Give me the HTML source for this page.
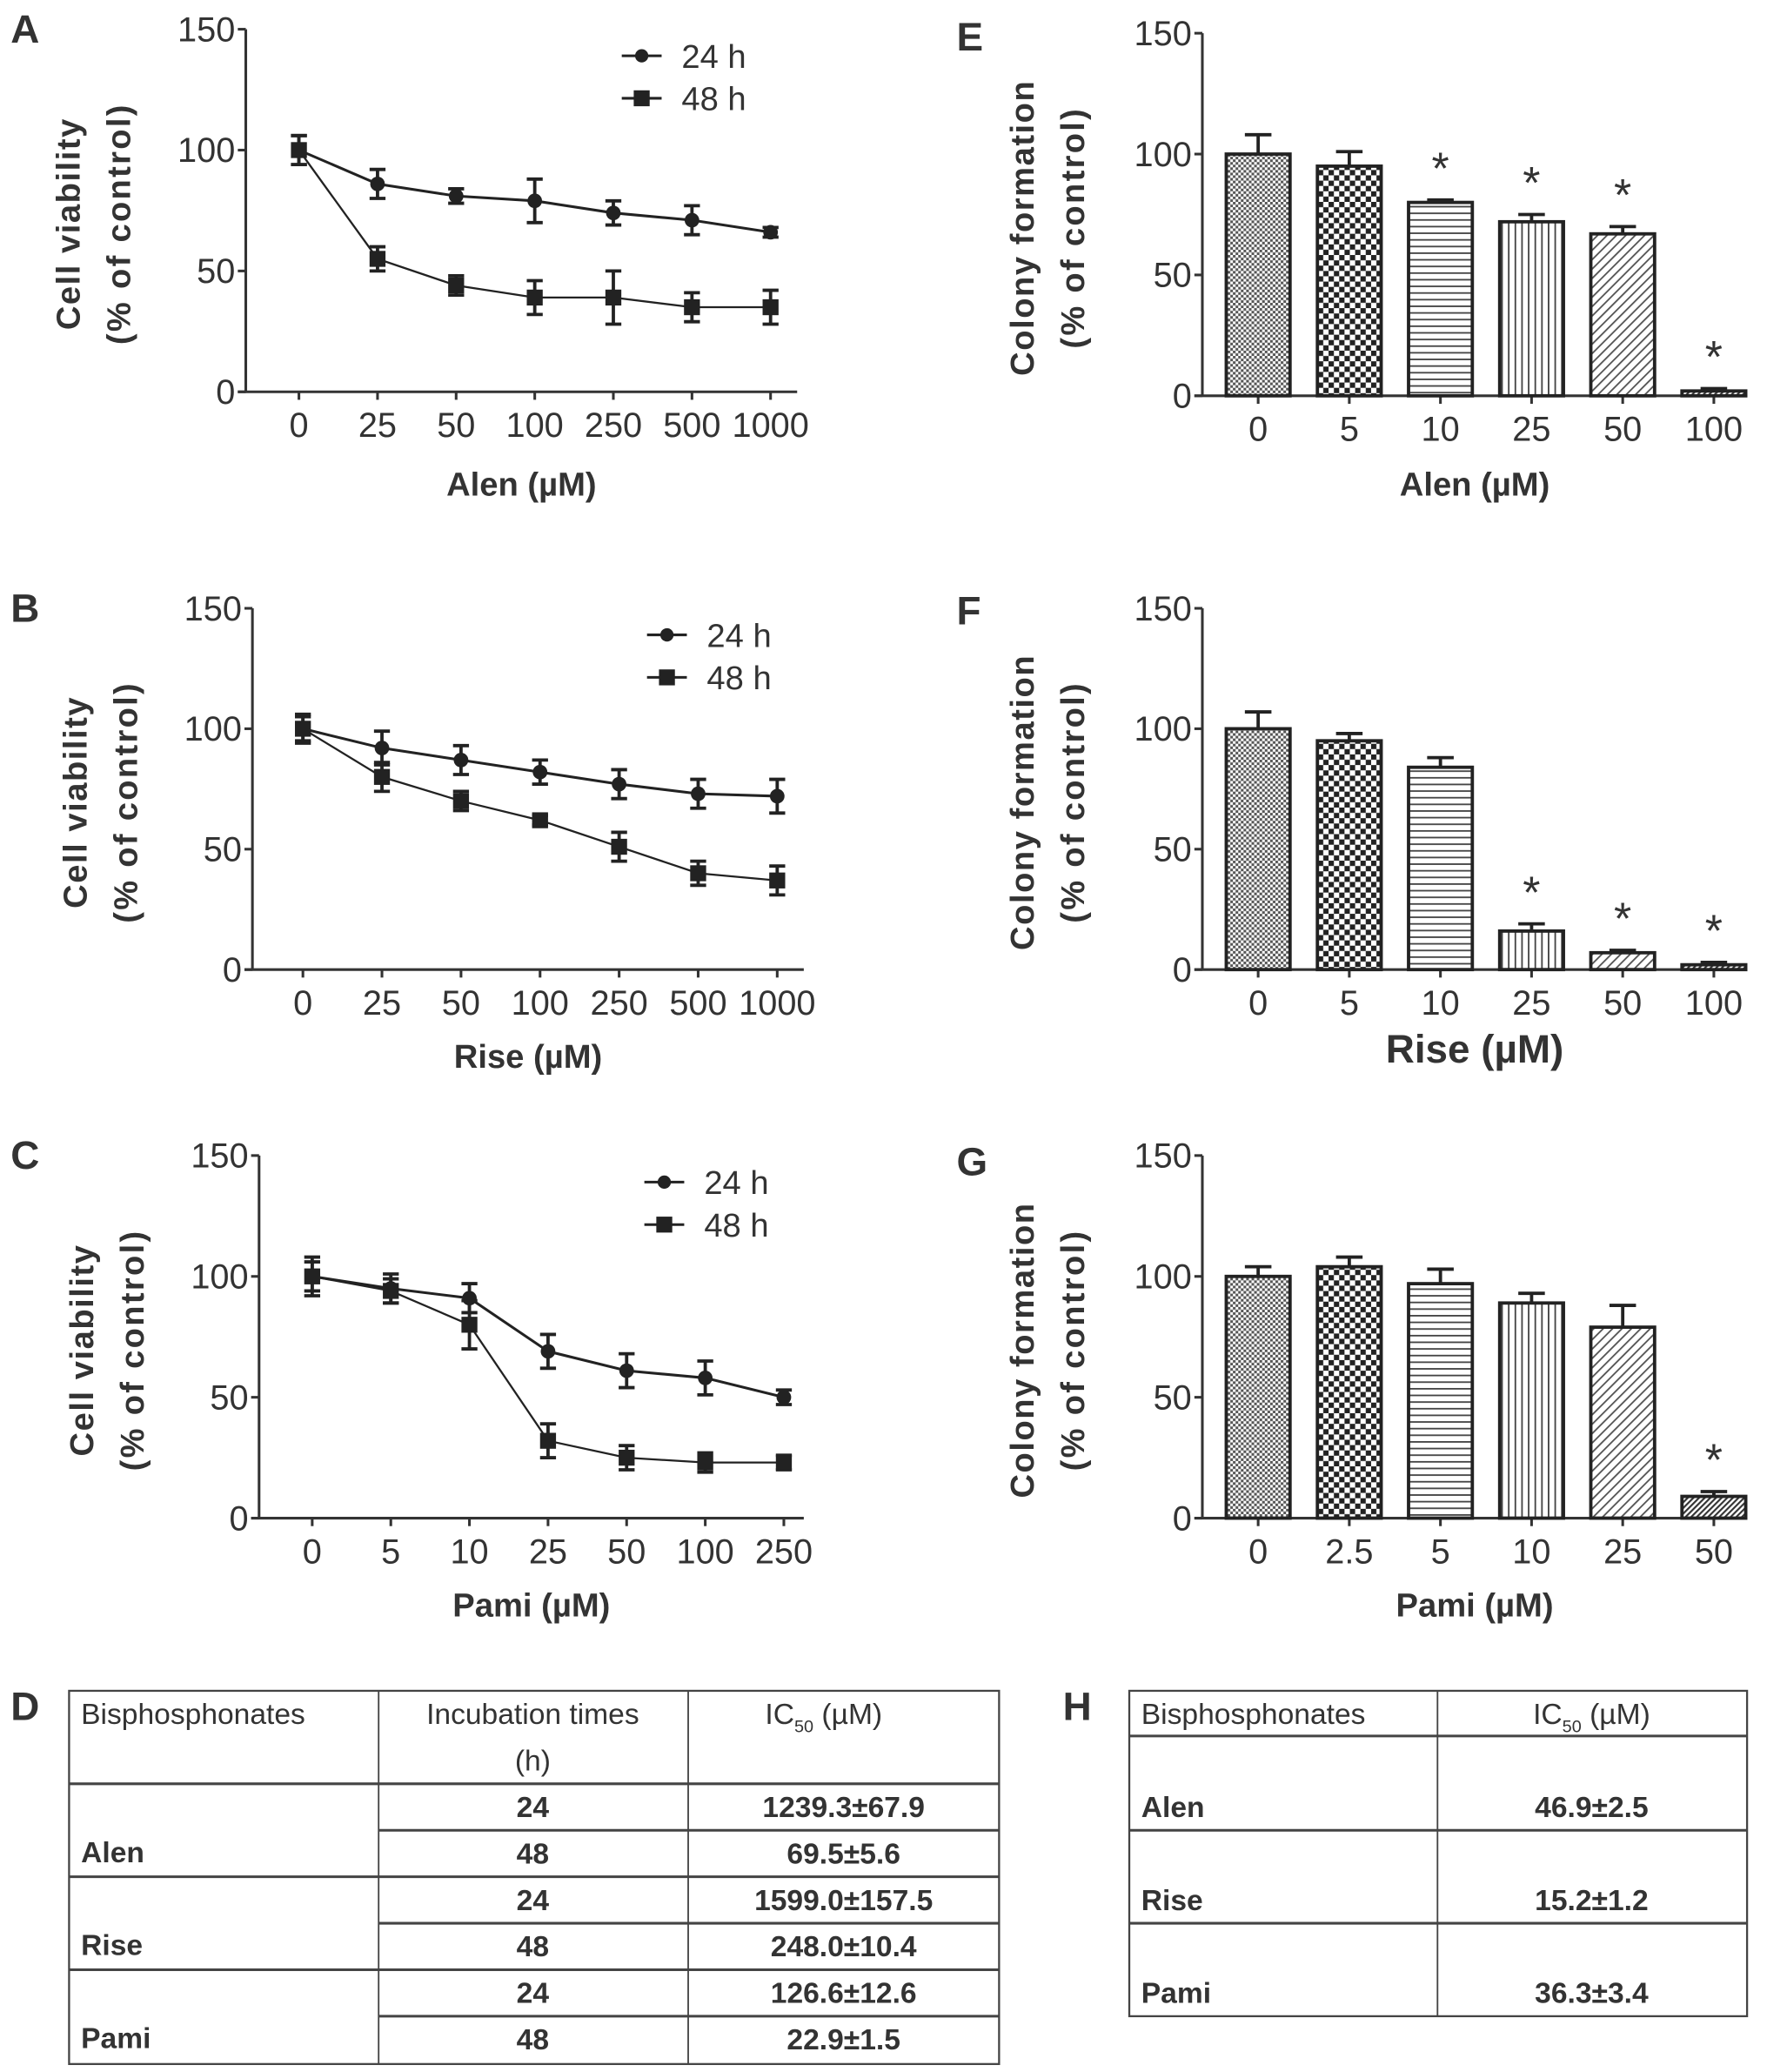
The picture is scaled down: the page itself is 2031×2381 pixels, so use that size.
<!DOCTYPE html>
<html><head><meta charset="utf-8"><style>
html,body{margin:0;padding:0;background:#fff}
svg{display:block}
text{font-family:"Liberation Sans Narrow","Liberation Sans",sans-serif;fill:#333}
.lab{font-family:"Liberation Sans",sans-serif;fill:#333}
</style></head><body>
<svg id="fig" width="2031" height="2381" viewBox="0 0 1330 1560" preserveAspectRatio="none" xmlns="http://www.w3.org/2000/svg">
<defs>
<pattern id="p0" width="4" height="4" patternUnits="userSpaceOnUse"><rect width="4" height="4" fill="#fff"/><rect width="2" height="2" fill="#555"/><rect x="2" y="2" width="2" height="2" fill="#555"/></pattern>
<pattern id="p1" width="8" height="8" patternUnits="userSpaceOnUse"><rect width="8" height="8" fill="#fff"/><rect width="4" height="4" fill="#222"/><rect x="4" y="4" width="4" height="4" fill="#222"/></pattern>
<pattern id="p2" width="6" height="5" patternUnits="userSpaceOnUse"><rect width="6" height="5" fill="#fff"/><rect width="6" height="1.2" fill="#444"/></pattern>
<pattern id="p3" width="5" height="6" patternUnits="userSpaceOnUse"><rect width="5" height="6" fill="#fff"/><rect width="1.2" height="6" fill="#444"/></pattern>
<pattern id="p4" width="5" height="5" patternUnits="userSpaceOnUse" patternTransform="rotate(45)"><rect width="5" height="5" fill="#fff"/><rect width="1.2" height="5" fill="#555"/></pattern>
<pattern id="p5" width="3" height="3" patternUnits="userSpaceOnUse" patternTransform="rotate(45)"><rect width="3" height="3" fill="#fff"/><rect width="1.4" height="3" fill="#333"/></pattern>
</defs>
</svg>
<script>
const NS="http://www.w3.org/2000/svg";
const svg=document.getElementById('fig');
// ---- data ----
const lineCatsA=["0","25","50","100","250","500","1000"];
const lineCatsB=["0","25","50","100","250","500","1000"];
const lineCatsC=["0","5","10","25","50","100","250"];
const a24=[100,86,81,79,74,71,66];
const a24e=[6,6,3,9,5,6,2];
const a48=[100,55,44,39,39,35,35];
const a48e=[6,5,4,7,11,6,7];
const b24=[100,92,87,82,77,73,72];
const b24e=[6,7,6,5,6,6,7];
const b48=[100,80,70,62,51,40,37];
const b48e=[5,6,4,2,6,5,6];
const c24=[100,95,91,69,61,58,50];
const c24e=[8,6,6,7,7,7,3];
const c48=[100,94,80,32,25,23,23];
const c48e=[6,5,10,7,5,4,3];
const barCatsE=["0","5","10","25","50","100"];
const barCatsF=["0","5","10","25","50","100"];
const barCatsG=["0","2.5","5","10","25","50"];
const eVals=[100,95,80,72,67,2];
const eErr=[8,6,1,3,3,1];
const eStar=[0,0,1,1,1,1];
const fVals=[100,95,84,16,7,2];
const fErr=[7,3,4,3,1,1];
const fStar=[0,0,0,1,1,1];
const gVals=[100,104,97,89,79,9];
const gErr=[4,4,6,4,9,2];
const gStar=[0,0,0,0,0,1];
const yTicks=[0,50,100,150];

function el(tag,attrs,parent){const e=document.createElementNS(NS,tag);for(const k in attrs)e.setAttribute(k,attrs[k]);(parent||svg).appendChild(e);return e;}
function txt(x,y,s,size,opts,parent){const t=el('text',Object.assign({x:x,y:y,'font-size':size},opts||{}),parent);t.textContent=s;return t;}

function axes(g,ax,y0,y150,xEnd,cats,xFirst,xLast,xlabel,xlabY,xlabSize,ytitle){
  const ys=v=>y0-(v/150)*(y0-y150);
  el('line',{x1:ax,y1:y150,x2:ax,y2:y0,stroke:'#333','stroke-width':2},g);
  el('line',{x1:ax-6,y1:y0,x2:xEnd,y2:y0,stroke:'#333','stroke-width':2},g);
  yTicks.forEach(v=>{
    el('line',{x1:ax-6,y1:ys(v),x2:ax,y2:ys(v),stroke:'#333','stroke-width':2},g);
    const t=txt(ax-8,ys(v)+9,String(v),26,{'text-anchor':'end'},g);
    
    
  });
  const step=(xLast-xFirst)/(cats.length-1);
  const xs=i=>xFirst+i*step;
  cats.forEach((c,i)=>{
    el('line',{x1:xs(i),y1:y0,x2:xs(i),y2:y0+6,stroke:'#333','stroke-width':2},g);
    const t=txt(xs(i),y0+34,c,26,{'text-anchor':'middle'},g);
    
    
  });
  const xl=txt((ax+xEnd)/2,xlabY,xlabel,xlabSize,{'text-anchor':'middle',class:'lab','font-weight':'bold'},g);
  
  
  const cy=(y0+y150)/2+10;
  const t1=txt(0,0,ytitle[0],25,{'text-anchor':'middle',class:'lab','font-weight':'bold',transform:`translate(${ytitle[2]},${cy}) rotate(-90)`,'letter-spacing':'1'},g);
  
  
  const t2=txt(0,0,ytitle[1],25,{'text-anchor':'middle',class:'lab','font-weight':'bold',transform:`translate(${ytitle[2]+38},${cy}) rotate(-90)`,'letter-spacing':'1.5'},g);
  
  
  return {ys,xs};
}

function linePanel(name,letter,lx,ly,ax,y0,y150,xEnd,cats,xFirst,xLast,xlabel,xlabY,s24,e24,s48,e48,legX,legY){
  const g=el('g',{});
  
  
  const L=txt(lx,ly,letter,30,{class:'lab','font-weight':'bold'},g);
  
  
  const {ys,xs}=axes(g,ax,y0,y150,xEnd,cats,xFirst,xLast,xlabel,xlabY,25,["Cell viability","(% of control)",ax-125]);
  [[s24,e24,'circle'],[s48,e48,'square']].forEach(([s,e,m],si)=>{
    const sg=el('g',{},g);
    
    
    el('polyline',{points:s.map((v,i)=>xs(i)+','+ys(v)).join(' '),fill:'none',stroke:'#222','stroke-width':si?1.5:2},sg);
    s.forEach((v,i)=>{
      const x=xs(i),y=ys(v),t=ys(v+e[i]),b=ys(v-e[i]);
      el('line',{x1:x,y1:t,x2:x,y2:b,stroke:'#222','stroke-width':2.5},sg);
      el('line',{x1:x-6,y1:t,x2:x+6,y2:t,stroke:'#222','stroke-width':2.5},sg);
      el('line',{x1:x-6,y1:b,x2:x+6,y2:b,stroke:'#222','stroke-width':2.5},sg);
      const mk=m==='circle'?el('circle',{cx:x,cy:y,r:5.5,fill:'#222'},sg):el('rect',{x:x-6,y:y-6,width:12,height:12,fill:'#222'},sg);
      
      
    });
  });
  [['24 h',0,'circle'],['48 h',32,'square']].forEach(([lab,dy,m])=>{
    const lg=el('g',{},g);
    
    
    el('line',{x1:legX,y1:legY+dy,x2:legX+30,y2:legY+dy,stroke:'#222','stroke-width':2},lg);
    if(m==='circle')el('circle',{cx:legX+15,cy:legY+dy,r:5,fill:'#222'},lg);
    else el('rect',{x:legX+9,y:legY+dy-6,width:12,height:12,fill:'#222'},lg);
    txt(legX+45,legY+dy+9,lab,25,{},lg);
  });
}

function barPanel(name,letter,lx,ly,ax,y0,y150,xEnd,cats,xFirst,xLast,xlabel,xlabY,xlabSize,vals,errs,stars){
  const g=el('g',{});
  
  
  const L=txt(lx,ly,letter,30,{class:'lab','font-weight':'bold'},g);
  
  
  const {ys,xs}=axes(g,ax,y0,y150,xEnd,cats,xFirst,xLast,xlabel,xlabY,xlabSize,["Colony formation","(% of control)",ax-127]);
  const bw=48;
  vals.forEach((v,i)=>{
    const x=xs(i),y=ys(v),t=ys(v+errs[i]);
    el('line',{x1:x,y1:t,x2:x,y2:y,stroke:'#222','stroke-width':2.5},g);
    el('line',{x1:x-10,y1:t,x2:x+10,y2:t,stroke:'#222','stroke-width':2.5},g);
    const r=el('rect',{x:x-bw/2,y:y,width:bw,height:Math.max(y0-y,1.5),fill:`url(#p${i})`,stroke:'#222','stroke-width':2.5},g);
    
    
    if(stars[i]){
      const s=txt(x,t-12,'*',34,{'text-anchor':'middle',class:'lab'},g);
      
      
    }
  });
}

linePanel('panel-a-alen-viability','A',8,32,185,295,22,600,lineCatsA,225,580,'Alen (µM)',373,a24,a24e,a48,a48e,468,42);
linePanel('panel-b-rise-viability','B',8,468,190,730,458,605,lineCatsB,228,585,'Rise (µM)',804,b24,b24e,b48,b48e,487,478);
linePanel('panel-c-pami-viability','C',8,880,195,1143,870,605,lineCatsC,235,590,'Pami (µM)',1217,c24,c24e,c48,c48e,485,890);
barPanel('panel-e-alen-colony','E',720,38,905,298,25,1315,barCatsE,947,1290,'Alen (µM)',373,25,eVals,eErr,eStar);
barPanel('panel-f-rise-colony','F',720,470,905,730,458,1315,barCatsF,947,1290,'Rise (µM)',800,30,fVals,fErr,fStar);
barPanel('panel-g-pami-colony','G',720,885,905,1143,870,1315,barCatsG,947,1290,'Pami (µM)',1217,25,gVals,gErr,gStar);
</script>
<div style="position:absolute;left:0;top:0;width:2031px;height:2381px;pointer-events:none">
<svg width="2031" height="2381" viewBox="0 0 1330 1560" preserveAspectRatio="none" xmlns="http://www.w3.org/2000/svg" style="position:absolute;left:0;top:0">
<g font-family="Liberation Sans Narrow, Liberation Sans, sans-serif" font-size="22" font-weight="bold" fill="#333">
<text x="8" y="1295" font-size="30" font-weight="bold" font-family="Liberation Sans, sans-serif">D</text>
<rect x="52" y="1273" width="700" height="281" fill="none" stroke="#444" stroke-width="1.5"/>
<line x1="285" y1="1273" x2="285" y2="1554" stroke="#444" stroke-width="1.2"/>
<line x1="518" y1="1273" x2="518" y2="1554" stroke="#444" stroke-width="1.2"/>
<line x1="52" y1="1343" x2="752" y2="1343" stroke="#444" stroke-width="2"/>
<line x1="52" y1="1413" x2="752" y2="1413" stroke="#444" stroke-width="2"/>
<line x1="52" y1="1483" x2="752" y2="1483" stroke="#444" stroke-width="2"/>
<line x1="285" y1="1378" x2="752" y2="1378" stroke="#444" stroke-width="2"/>
<line x1="285" y1="1448" x2="752" y2="1448" stroke="#444" stroke-width="2"/>
<line x1="285" y1="1518" x2="752" y2="1518" stroke="#444" stroke-width="2"/>
<text x="61" y="1298" font-weight="normal">Bisphosphonates</text>
<text x="401" y="1298" text-anchor="middle" font-weight="normal">Incubation times</text>
<text x="401" y="1333" text-anchor="middle" font-weight="normal">(h)</text>
<text x="620" y="1298" text-anchor="middle" font-weight="normal">IC<tspan font-size="13" dy="6">50</tspan><tspan dy="-6"> (µM)</tspan></text>
<text x="61" y="1402">Alen</text><text x="61" y="1472">Rise</text><text x="61" y="1542">Pami</text>
<text x="401" y="1368" text-anchor="middle">24</text><text x="401" y="1403" text-anchor="middle">48</text>
<text x="401" y="1438" text-anchor="middle">24</text><text x="401" y="1473" text-anchor="middle">48</text>
<text x="401" y="1508" text-anchor="middle">24</text><text x="401" y="1543" text-anchor="middle">48</text>
<text x="635" y="1368" text-anchor="middle">1239.3±67.9</text><text x="635" y="1403" text-anchor="middle">69.5±5.6</text>
<text x="635" y="1438" text-anchor="middle">1599.0±157.5</text><text x="635" y="1473" text-anchor="middle">248.0±10.4</text>
<text x="635" y="1508" text-anchor="middle">126.6±12.6</text><text x="635" y="1543" text-anchor="middle">22.9±1.5</text>
</g>
<g font-family="Liberation Sans Narrow, Liberation Sans, sans-serif" font-size="22" font-weight="bold" fill="#333">
<text x="800" y="1295" font-size="30" font-weight="bold" font-family="Liberation Sans, sans-serif">H</text>
<rect x="850" y="1273" width="465" height="245" fill="none" stroke="#444" stroke-width="1.5"/>
<line x1="1082" y1="1273" x2="1082" y2="1518" stroke="#444" stroke-width="1.2"/>
<line x1="850" y1="1307" x2="1315" y2="1307" stroke="#444" stroke-width="2"/>
<line x1="850" y1="1378" x2="1315" y2="1378" stroke="#444" stroke-width="2"/>
<line x1="850" y1="1448" x2="1315" y2="1448" stroke="#444" stroke-width="2"/>
<text x="859" y="1298" font-weight="normal">Bisphosphonates</text>
<text x="1198" y="1298" text-anchor="middle" font-weight="normal">IC<tspan font-size="13" dy="6">50</tspan><tspan dy="-6"> (µM)</tspan></text>
<text x="859" y="1368">Alen</text><text x="859" y="1438">Rise</text><text x="859" y="1508">Pami</text>
<text x="1198" y="1368" text-anchor="middle">46.9±2.5</text>
<text x="1198" y="1438" text-anchor="middle">15.2±1.2</text>
<text x="1198" y="1508" text-anchor="middle">36.3±3.4</text>
</g>
</svg>
</div>
</body></html>
